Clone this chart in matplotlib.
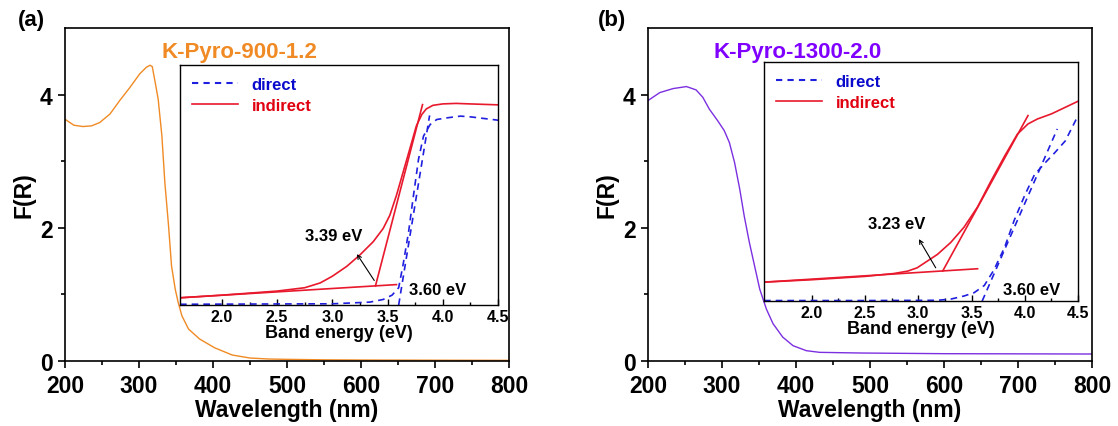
import matplotlib
matplotlib.use("Agg")
import matplotlib.pyplot as plt
from matplotlib.lines import Line2D

plt.rcParams['font.family'] = ['Liberation Sans', 'DejaVu Sans']
plt.rcParams['font.weight'] = 'bold'

# ---- Kubelka-Munk spectra ----
wl_a = [200, 212, 224, 236, 247, 261, 274, 288, 301, 310, 315, 318, 322, 326, 331,
        335, 340, 344, 349, 353, 358, 367, 382, 402, 426, 450, 475, 500, 550, 600,
        700, 800]
fr_a = [3.63, 3.54, 3.52, 3.53, 3.58, 3.71, 3.91, 4.11, 4.31, 4.41, 4.44, 4.42, 4.18,
        3.93, 3.38, 2.68, 2.03, 1.43, 1.08, 0.88, 0.68, 0.48, 0.33, 0.20, 0.09, 0.045,
        0.03, 0.025, 0.018, 0.015, 0.012, 0.01]

wl_b = [200, 216, 234, 252, 265, 274, 283, 294, 303, 310, 317, 324, 330, 337, 344,
        351, 360, 369, 382, 396, 414, 432, 488, 600, 800]
fr_b = [3.91, 4.03, 4.09, 4.12, 4.07, 3.96, 3.78, 3.61, 3.46, 3.28, 2.98, 2.58, 2.18,
        1.78, 1.43, 1.08, 0.78, 0.56, 0.36, 0.23, 0.155, 0.13, 0.12, 0.11, 0.105]

# ---- Tauc plots (normalised) ----
e_ind_a = [1.62, 2.0, 2.5, 2.75, 2.89, 3.0, 3.13, 3.25, 3.37, 3.46, 3.52, 3.58, 3.64,
           3.70, 3.76, 3.81, 3.85, 3.91, 4.0, 4.12, 4.24, 4.5]
y_ind_a = [0.030, 0.041, 0.058, 0.072, 0.092, 0.120, 0.161, 0.209, 0.264, 0.319, 0.374,
           0.457, 0.553, 0.649, 0.746, 0.794, 0.817, 0.832, 0.838, 0.840, 0.838, 0.834]
e_dir_a = [1.62, 3.0, 3.34, 3.46, 3.54, 3.60, 3.64, 3.69, 3.73, 3.78, 3.825, 3.885,
           3.945, 4.04, 4.16, 4.25, 4.5]
y_dir_a = [0.003, 0.005, 0.012, 0.023, 0.041, 0.072, 0.168, 0.305, 0.443, 0.608, 0.704,
           0.752, 0.773, 0.780, 0.787, 0.784, 0.770]

e_ind_b = [1.553, 2.0, 2.5, 2.77, 2.90, 2.99, 3.085, 3.18, 3.305, 3.43, 3.557, 3.68,
           3.81, 3.93, 4.03, 4.12, 4.25, 4.5]
y_ind_b = [0.079, 0.089, 0.103, 0.115, 0.125, 0.139, 0.167, 0.195, 0.245, 0.309, 0.394,
           0.500, 0.606, 0.698, 0.741, 0.762, 0.783, 0.836]
e_dir_b = [1.553, 2.5, 3.18, 3.305, 3.43, 3.525, 3.62, 3.71, 3.81, 3.90, 4.0, 4.09,
           4.19, 4.28, 4.38, 4.5]
y_dir_b = [0.002, 0.002, 0.003, 0.008, 0.021, 0.035, 0.065, 0.13, 0.224, 0.337, 0.443,
           0.528, 0.578, 0.62, 0.67, 0.776]

# band gaps and tangent construction
eg_ind_a, eg_dir_a = 3.39, 3.60
eg_ind_b, eg_dir_b = 3.23, 3.60
base_a = ([1.62, 3.58], [0.030, 0.085])
steep_top_a = (3.816, 0.835)
dir_top_a = (3.88, 0.79)
base_b = ([1.553, 3.557], [0.079, 0.135])
steep_top_b = (4.03, 0.776)
dir_top_b = (4.305, 0.72)

ORANGE = '#F08A24'
PURPLE = '#7B2FE0'
PURPLE_T = '#8000FF'
RED = '#E8192C'
BLUE = '#1F1FE0'

fig = plt.figure(figsize=(11.18, 4.27), dpi=100)


def style_main(ax):
    ax.set_xlim(200, 800)
    ax.set_ylim(0, 5)
    ax.set_xticks([200, 300, 400, 500, 600, 700, 800])
    ax.set_xticks(range(250, 800, 100), minor=True)
    ax.set_yticks([0, 2, 4])
    ax.set_yticks([1, 3], minor=True)
    ax.tick_params(which='major', direction='out', length=5, width=1.2,
                   labelsize=16.5)
    ax.tick_params(axis='x', which='major', pad=4)
    ax.tick_params(axis='y', which='major', pad=4)
    ax.tick_params(which='minor', direction='out', length=3, width=1.2)
    for s in ax.spines.values():
        s.set_linewidth(1.2)
    ax.set_xlabel('Wavelength (nm)', fontsize=16.5, fontweight='bold', labelpad=1)
    ax.set_ylabel('F(R)', fontsize=16.5, fontweight='bold', labelpad=3)


def value_at(xs, ys, x):
    return ys[0] + (ys[1] - ys[0]) * (x - xs[0]) / (xs[1] - xs[0])


def style_inset(ax, xmin):
    ax.set_xlim(xmin, 4.5)
    ax.set_ylim(0, 1)
    ax.set_yticks([])
    ax.set_xticks([2.0, 2.5, 3.0, 3.5, 4.0, 4.5])
    ax.set_xticks([2.25, 2.75, 3.25, 3.75, 4.25], minor=True)
    ax.set_xticklabels(['2.0', '2.5', '3.0', '3.5', '4.0', '4.5'])
    ax.tick_params(which='major', direction='in', length=4, width=1,
                   labelsize=11.5, pad=3)
    ax.tick_params(which='minor', direction='in', length=2, width=1)
    for s in ax.spines.values():
        s.set_linewidth(1)
    ax.set_xlabel('Band energy (eV)', fontsize=13, fontweight='bold', labelpad=0)
    handles = [Line2D([], [], color=BLUE, lw=1.5, ls=(0, (3, 2.5))),
               Line2D([], [], color=RED, lw=1.2)]
    leg = ax.legend(handles, ['direct', 'indirect'], loc='upper left',
                    frameon=False, fontsize=12, handlelength=2.8,
                    handletextpad=0.8, labelspacing=0.35,
                    borderaxespad=0.3, labelcolor=['#0A0ACC', '#E00010'])
    for t in leg.get_texts():
        t.set_fontweight('bold')


def draw_inset(ax, e_ind, y_ind, e_dir, y_dir, base, steep_top, dir_top,
               eg_ind, eg_dir):
    ax.plot(e_ind, y_ind, color=RED, lw=1.2)
    ax.plot(e_dir, y_dir, color=BLUE, lw=1.2, ls=(0, (4, 3)))
    ax.plot(base[0], base[1], color=RED, lw=1.2)
    y0 = value_at(base[0], base[1], eg_ind)
    ax.plot([eg_ind, steep_top[0]], [y0, steep_top[1]], color=RED, lw=1.2)
    ax.plot([eg_dir, dir_top[0]], [0.0, dir_top[1]], color=BLUE, lw=1.2,
            ls=(0, (4, 3)))


# ---------- panel (a) ----------
ax1 = fig.add_axes([0.0581, 0.1522, 0.3971, 0.780])
ax1.plot(wl_a, fr_a, color=ORANGE, lw=1.0)
style_main(ax1)
ax1.text(331, 4.65, 'K-Pyro-900-1.2', color=ORANGE, fontsize=16,
         fontweight='bold', va='center', ha='left')
fig.text(0.016, 0.953, '(a)', fontsize=16, fontweight='bold', va='center')

ins1 = fig.add_axes([0.161, 0.2834, 0.2845, 0.562])
draw_inset(ins1, e_ind_a, y_ind_a, e_dir_a, y_dir_a, base_a, steep_top_a,
           dir_top_a, eg_ind_a, eg_dir_a)
style_inset(ins1, 1.62)
ins1.text(3.01, 0.29, f'{eg_ind_a:.2f} eV', fontsize=12, fontweight='bold',
          ha='center', va='center')
ins1.annotate('', xy=(3.222, 0.212), xytext=(3.379, 0.102),
              arrowprops=dict(arrowstyle='->', lw=0.8, color='black',
                              shrinkA=0, shrinkB=0, mutation_scale=7))
ins1.text(3.69, 0.065, f'{eg_dir_a:.2f} eV', fontsize=12, fontweight='bold',
          ha='left', va='center')

# ---------- panel (b) ----------
ax2 = fig.add_axes([0.5796, 0.1522, 0.3971, 0.780])
ax2.plot(wl_b, fr_b, color=PURPLE, lw=1.0)
style_main(ax2)
ax2.text(288, 4.65, 'K-Pyro-1300-2.0', color=PURPLE_T, fontsize=16,
         fontweight='bold', va='center', ha='left')
fig.text(0.535, 0.953, '(b)', fontsize=16, fontweight='bold', va='center')

ins2 = fig.add_axes([0.6834, 0.2927, 0.2809, 0.5597])
draw_inset(ins2, e_ind_b, y_ind_b, e_dir_b, y_dir_b, base_b, steep_top_b,
           dir_top_b, eg_ind_b, eg_dir_b)
style_inset(ins2, 1.553)
ins2.text(2.80, 0.323, f'{eg_ind_b:.2f} eV', fontsize=12, fontweight='bold',
          ha='center', va='center')
ins2.annotate('', xy=(3.006, 0.259), xytext=(3.164, 0.139),
              arrowprops=dict(arrowstyle='->', lw=0.8, color='black',
                              shrinkA=0, shrinkB=0, mutation_scale=7))
ins2.text(4.06, 0.047, f'{eg_dir_b:.2f} eV', fontsize=12, fontweight='bold',
          ha='center', va='center')

fig.savefig('out.png', dpi=100)
